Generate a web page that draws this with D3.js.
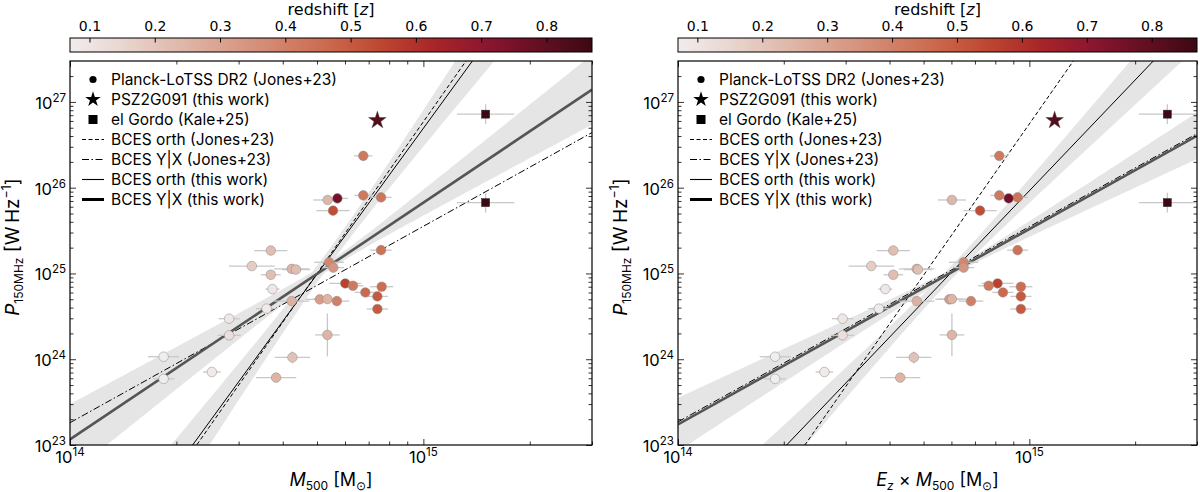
<!DOCTYPE html>
<html>
<head>
<meta charset="utf-8">
<script src="https://cdn.jsdelivr.net/npm/d3@7"></script>
<style>
body { margin: 0; background: #fff; }
text { font-family: Inter, "Noto Sans", sans-serif; fill: #000; }
.cb text { font-family: "DejaVu Sans", sans-serif; }
</style>
</head>
<body>
<svg id="mysvg" width="1200" height="492"></svg>
<script>
// Planck-LoTSS DR2 halos (Jones+23)
let massM500 = [1.84e14, 1.84e14, 2.52e14, 2.82e14, 2.82e14, 3.60e14, 3.74e14, 3.70e14, 3.27e14, 4.24e14,
                4.36e14, 3.70e14, 4.24e14, 4.26e14, 3.83e14, 5.35e14, 5.09e14, 5.35e14, 5.69e14, 5.41e14,
                5.56e14, 6.01e14, 6.32e14, 6.85e14, 7.62e14, 7.41e14, 7.41e14, 7.59e14, 6.76e14, 7.59e14,
                6.76e14, 5.36e14, 5.71e14, 5.55e14];
let ezMassM500 = [1.89e14, 1.89e14, 2.61e14, 2.94e14, 2.94e14, 3.73e14, 3.89e14, 4.10e14, 3.55e14, 4.78e14,
                  4.82e14, 4.10e14, 4.78e14, 4.69e14, 4.29e14, 6.02e14, 5.92e14, 6.02e14, 6.82e14, 6.50e14,
                  6.50e14, 8.12e14, 7.66e14, 8.41e14, 9.46e14, 9.46e14, 9.46e14, 9.26e14, 8.21e14, 9.26e14,
                  8.21e14, 6.02e14, 8.73e14, 7.24e14];
let power150 = [1.07e24, 5.9e23, 7.1e23, 2.97e24, 1.9e24, 3.89e24, 6.57e24, 1.85e25, 1.22e25, 1.13e25,
                1.11e25, 9.66e24, 4.76e24, 1.05e24, 6.1e23, 1.92e24, 4.99e24, 5.03e24, 4.76e24, 1.35e25,
                1.17e25, 7.65e24, 7.19e24, 6.01e24, 7.0e24, 5.4e24, 3.85e24, 1.87e25, 8.13e25, 7.71e25,
                2.35e26, 7.19e25, 7.5e25, 5.4e25];
let redshift = [0.07, 0.07, 0.08, 0.09, 0.12, 0.08, 0.09, 0.22, 0.18, 0.25,
                0.22, 0.22, 0.26, 0.21, 0.25, 0.25, 0.32, 0.25, 0.40, 0.38,
                0.34, 0.56, 0.42, 0.46, 0.45, 0.50, 0.50, 0.44, 0.42, 0.43,
                0.42, 0.24, 0.76, 0.53];
// errors in dex
let massErr = [0.044, 0.03, 0.025, 0.03, 0.033, 0.03, 0.02, 0.047, 0.065, 0.05,
               0.04, 0.028, 0.05, 0.05, 0.057, 0.035, 0.04, 0.04, 0.035, 0.042,
               0.03, 0.045, 0.03, 0.03, 0.033, 0.03, 0.03, 0.03, 0.025, 0.03,
               0.026, 0.04, 0.03, 0.047];
let powerErr = [0.03, 0.03, 0.03, 0.03, 0.03, 0.03, 0.03, 0.04, 0.03, 0.03,
                0.03, 0.03, 0.03, 0.07, 0.03, 0.25, 0.03, 0.03, 0.03, 0.03,
                0.03, 0.03, 0.03, 0.03, 0.03, 0.03, 0.03, 0.03, 0.03, 0.03,
                0.05, 0.03, 0.03, 0.03];

// PSZ2G091 (this work)
let pszMass = [7.41e14];
let pszEzMass = [1.18e15];
let pszPower = [6.1e26];
let pszZ = [0.822];

// el Gordo (Kale+25)
let gordoMass = [1.50e15, 1.50e15];
let gordoEzMass = [2.47e15, 2.47e15];
let gordoPower = [7.2e26, 6.7e25];
let gordoZ = [0.87, 0.87];
let gordoMassErr = [0.081, 0.081];
let gordoPowerErr = [0.116, 0.116];

// BCES fits: log P = norm + slope * (log X - 14)
let fitLabels = ["BCES orth (Jones+23)", "BCES Y|X (Jones+23)", "BCES orth (this work)", "BCES Y|X (this work)"];
let fitNormM = [20.894, 23.26, 21.038, 23.066];
let fitSlopeM = [5.875, 2.29, 5.655, 2.76];
let fitNormEz = [20.884, 23.27, 21.674, 23.24];
let fitSlopeEz = [5.86, 2.275, 4.29, 2.278];

// uncertainty bands of the two fits from this work (orth, Y|X)
let bandPivotM = [14.74, 14.74];
let bandWidthM = [0.096, 0.05];
let bandSlopeErrM = [0.73, 0.55];
let bandPivotEz = [14.78, 14.79];
let bandWidthEz = [0.08, 0.04];
let bandSlopeErrEz = [0.53, 0.39];

let zTicks = [0.1, 0.2, 0.3, 0.4, 0.5, 0.6, 0.7, 0.8];
let zRange = [0.0694, 0.869];
let xTickExp = [14, 15];
let yTickExp = [23, 24, 25, 26, 27];

let legendLabels = ["Planck-LoTSS DR2 (Jones+23)", "PSZ2G091 (this work)", "el Gordo (Kale+25)"].concat(fitLabels);

// styles
let fitDash = ["4,2.5", "7,2.5,1.5,2.5", null, null];
let fitWidth = [1, 1, 1, 2.6];
let fitColor = ["#000", "#000", "#000", "#555"];
let ampStops = ["#f1edec", "#e9d6d0", "#e0bbae", "#d9a08d", "#d2846c", "#cb674b",
                "#be4530", "#a82529", "#8b1530", "#640f22", "#3c0912"];

let plotTop = 61, plotBottom = 445;

let zColor = d3.scaleLinear()
    .domain(d3.range(ampStops.length).map(i => zRange[0] + (zRange[1] - zRange[0]) * i / (ampStops.length - 1)))
    .range(ampStops)
    .clamp(true);

let svg = d3.select('#mysvg');

function drawColorbar(x0, x1)
{
    let g = svg.append("g").attr("class", "cb");
    let cx = d3.scaleLinear().domain(zRange).range([x0, x1]);
    let id = "grad" + x0;
    let grad = svg.append("defs").append("linearGradient").attr("id", id);
    d3.range(0, 1.0001, 0.02).forEach(t => {
        grad.append("stop").attr("offset", t).attr("stop-color", zColor(zRange[0] + t * (zRange[1] - zRange[0])));
    });
    g.append("rect").attr("x", x0).attr("y", 38).attr("width", x1 - x0).attr("height", 14)
        .attr("fill", "url(#" + id + ")").attr("stroke", "#000").attr("stroke-width", 1);
    g.selectAll("line.zt").data(zTicks).enter().append("line")
        .attr("x1", d => cx(d)).attr("x2", d => cx(d)).attr("y1", 38).attr("y2", 42.5)
        .attr("stroke", "#000");
    g.selectAll("text.zt").data(zTicks).enter().append("text")
        .attr("x", d => cx(d)).attr("y", 30.5).attr("text-anchor", "middle").attr("font-size", 14)
        .text(d => d.toFixed(1));
    let t = g.append("text").attr("x", (x0 + x1) / 2).attr("y", 14.5).attr("text-anchor", "middle").attr("font-size", 16);
    t.append("tspan").text("redshift [");
    t.append("tspan").attr("font-style", "italic").text("z");
    t.append("tspan").text("]");
}

function powerOf10(sel, exp, size)
{
    sel.append("tspan").text("10");
    sel.append("tspan").attr("dy", -7).attr("font-size", size * 0.7).text(exp);
}

function drawPanel(x0, x1, xVals, starX, squareX, fitNorm, fitSlope, bandPivot, bandWidth, bandSlopeErr, xLabel)
{
    let x = d3.scaleLog().domain([1e14, 3e15]).range([x0, x1]);
    let y = d3.scaleLog().domain([1e23, 3e27]).range([plotBottom, plotTop]);
    let lxMax = Math.log10(3e15);

    let clipId = "clip" + x0;
    svg.append("clipPath").attr("id", clipId).append("rect")
        .attr("x", x0).attr("y", plotTop).attr("width", x1 - x0).attr("height", plotBottom - plotTop);
    let g = svg.append("g").attr("clip-path", "url(#" + clipId + ")");

    // bands
    let lxs = d3.range(14, lxMax + 0.005, 0.01);
    for (let k = 0; k < 2; ++k)
    {
        let f = k + 2;
        let half = lx => Math.sqrt(bandWidth[k] ** 2 + (bandSlopeErr[k] * (lx - bandPivot[k])) ** 2);
        let area = d3.area()
            .x(lx => x(10 ** lx))
            .y0(lx => y(10 ** (fitNorm[f] + fitSlope[f] * (lx - 14) - half(lx))))
            .y1(lx => y(10 ** (fitNorm[f] + fitSlope[f] * (lx - 14) + half(lx))));
        g.append("path").datum(lxs).attr("d", area).attr("fill", "#e5e5e5");
    }

    // fit lines
    for (let f = 0; f < fitNorm.length; ++f)
    {
        let ends = [14, lxMax];
        g.append("line")
            .attr("x1", x(10 ** ends[0])).attr("y1", y(10 ** (fitNorm[f])))
            .attr("x2", x(10 ** ends[1])).attr("y2", y(10 ** (fitNorm[f] + fitSlope[f] * (ends[1] - 14))))
            .attr("stroke", fitColor[f]).attr("stroke-width", fitWidth[f])
            .attr("stroke-dasharray", fitDash[f]);
    }

    // error bars
    let errData = xVals.map((d, i) => ({x: d, y: power150[i], ex: massErr[i], ey: powerErr[i]}))
        .concat(squareX.map((d, i) => ({x: d, y: gordoPower[i], ex: gordoMassErr[i], ey: gordoPowerErr[i]})));
    let eb = g.selectAll("g.err").data(errData).enter().append("g").attr("class", "err");
    eb.append("line")
        .attr("x1", d => x(d.x / 10 ** d.ex)).attr("x2", d => x(d.x * 10 ** d.ex))
        .attr("y1", d => y(d.y)).attr("y2", d => y(d.y))
        .attr("stroke", "#c8c8c8").attr("stroke-width", 1.3);
    eb.append("line")
        .attr("x1", d => x(d.x)).attr("x2", d => x(d.x))
        .attr("y1", d => y(d.y / 10 ** d.ey)).attr("y2", d => y(d.y * 10 ** d.ey))
        .attr("stroke", "#c8c8c8").attr("stroke-width", 1.3);

    // halos
    let pts = xVals.map((d, i) => ({x: d, y: power150[i], z: redshift[i]}));
    g.selectAll("circle.halo").data(pts).enter().append("circle")
        .attr("class", "halo")
        .attr("cx", d => x(d.x)).attr("cy", d => y(d.y)).attr("r", 4.8)
        .attr("fill", d => zColor(d.z)).attr("stroke", "#8a8a8a").attr("stroke-width", 0.5);

    g.selectAll("rect.gordo").data(squareX.map((d, i) => ({x: d, y: gordoPower[i], z: gordoZ[i]})))
        .enter().append("rect")
        .attr("x", d => x(d.x) - 4).attr("y", d => y(d.y) - 4).attr("width", 8).attr("height", 8)
        .attr("fill", d => zColor(d.z)).attr("stroke", "#222").attr("stroke-width", 0.5);

    g.selectAll("path.psz").data(starX.map((d, i) => ({x: d, y: pszPower[i], z: pszZ[i]})))
        .enter().append("path")
        .attr("d", d3.symbol(d3.symbolStar, 95))
        .attr("transform", d => "translate(" + x(d.x) + "," + y(d.y) + ")")
        .attr("fill", d => zColor(d.z)).attr("stroke", "#333").attr("stroke-width", 0.4);

    // axes, ticks inward on all four sides
    let minorX = [], minorY = [];
    for (let e = 14; e <= 15; ++e) for (let m = 2; m <= 9; ++m) if (m * 10 ** e <= 3e15) minorX.push(m * 10 ** e);
    for (let e = 23; e <= 27; ++e) for (let m = 2; m <= 9; ++m) if (m * 10 ** e <= 3e27) minorY.push(m * 10 ** e);
    let majorX = xTickExp.map(e => 10 ** e);
    let majorY = yTickExp.map(e => 10 ** e);

    let ax = svg.append("g");
    ax.append("g").attr("transform", "translate(0," + plotBottom + ")").call(d3.axisBottom(x).tickValues(majorX).tickSize(-6).tickFormat(""));
    ax.append("g").attr("transform", "translate(0," + plotBottom + ")").call(d3.axisBottom(x).tickValues(minorX).tickSize(-3.5).tickFormat(""));
    ax.append("g").attr("transform", "translate(0," + plotTop + ")").call(d3.axisTop(x).tickValues(majorX).tickSize(-6).tickFormat(""));
    ax.append("g").attr("transform", "translate(0," + plotTop + ")").call(d3.axisTop(x).tickValues(minorX).tickSize(-3.5).tickFormat(""));
    ax.append("g").attr("transform", "translate(" + x0 + ",0)").call(d3.axisLeft(y).tickValues(majorY).tickSize(-6).tickFormat(""));
    ax.append("g").attr("transform", "translate(" + x0 + ",0)").call(d3.axisLeft(y).tickValues(minorY).tickSize(-3.5).tickFormat(""));
    ax.append("g").attr("transform", "translate(" + x1 + ",0)").call(d3.axisRight(y).tickValues(majorY).tickSize(-6).tickFormat(""));
    ax.append("g").attr("transform", "translate(" + x1 + ",0)").call(d3.axisRight(y).tickValues(minorY).tickSize(-3.5).tickFormat(""));
    ax.selectAll(".domain").remove();
    ax.selectAll(".tick line").attr("stroke", "#000").attr("stroke-width", 0.8);
    ax.append("rect").attr("x", x0).attr("y", plotTop).attr("width", x1 - x0).attr("height", plotBottom - plotTop)
        .attr("fill", "none").attr("stroke", "#000").attr("stroke-width", 1.2);

    xTickExp.forEach(e => {
        let t = ax.append("text").attr("x", x(10 ** e)).attr("y", 463).attr("text-anchor", "middle").attr("font-size", 16.5);
        powerOf10(t, e, 16.5);
    });
    yTickExp.forEach(e => {
        let t = ax.append("text").attr("x", x0 - 4).attr("y", y(10 ** e) + 7).attr("text-anchor", "end").attr("font-size", 16.5);
        powerOf10(t, e, 16.5);
    });

    // axis labels
    let yl = ax.append("text").attr("transform", "translate(" + (x0 - 51) + "," + ((plotTop + plotBottom) / 2 - 6) + ") rotate(-90)")
        .attr("text-anchor", "middle").attr("font-size", 19);
    yl.append("tspan").attr("font-style", "italic").text("P");
    yl.append("tspan").attr("font-size", 12).attr("dy", 4).text("150MHz");
    yl.append("tspan").attr("dy", -4).text(" [W\u2009Hz");
    yl.append("tspan").attr("font-size", 12.5).attr("dy", -8).text("\u22121");
    yl.append("tspan").attr("dy", 8).text("]");

    let xl = ax.append("text").attr("x", (x0 + x1) / 2).attr("y", 486).attr("text-anchor", "middle").attr("font-size", 18);
    xLabel(xl);

    // legend
    let lg = svg.append("g").attr("transform", "translate(" + x0 + ",0)");
    legendLabels.forEach((label, i) => {
        let ly = 79.5 + i * 20;
        lg.append("text").attr("x", 41).attr("y", ly + 5.5).attr("font-size", 15.5).text(label);
        if (i == 0)
            lg.append("circle").attr("cx", 23).attr("cy", ly).attr("r", 3.6).attr("fill", "#000");
        else if (i == 1)
            lg.append("path").attr("d", d3.symbol(d3.symbolStar, 75)).attr("transform", "translate(23," + ly + ")").attr("fill", "#000");
        else if (i == 2)
            lg.append("rect").attr("x", 18.5).attr("y", ly - 4.5).attr("width", 9).attr("height", 9).attr("fill", "#000");
        else
        {
            let f = i - 3;
            lg.append("line").attr("x1", 12).attr("x2", 34).attr("y1", ly).attr("y2", ly)
                .attr("stroke", "#000").attr("stroke-width", f == 3 ? 3 : 1.1)
                .attr("stroke-dasharray", fitDash[f]);
        }
    });
}

function massLabel(t)
{
    t.append("tspan").attr("font-style", "italic").text("M");
    t.append("tspan").attr("font-size", 12).attr("dy", 4).text("500");
    t.append("tspan").attr("dy", -4).text(" [M");
    t.append("tspan").attr("font-size", 12).attr("dy", 4).text("\u2299");
    t.append("tspan").attr("dy", -4).text("]");
}

drawColorbar(70, 592);
drawColorbar(678, 1197);

drawPanel(70, 592, massM500, pszMass, gordoMass, fitNormM, fitSlopeM, bandPivotM, bandWidthM, bandSlopeErrM, massLabel);
drawPanel(678, 1197, ezMassM500, pszEzMass, gordoEzMass, fitNormEz, fitSlopeEz, bandPivotEz, bandWidthEz, bandSlopeErrEz, function(t) {
    t.append("tspan").attr("font-style", "italic").text("E");
    t.append("tspan").attr("font-size", 12).attr("dy", 4).attr("font-style", "italic").text("z");
    t.append("tspan").attr("dy", -4).text(" \u00d7 ");
    massLabel(t);
});
</script>
</body>
</html>
